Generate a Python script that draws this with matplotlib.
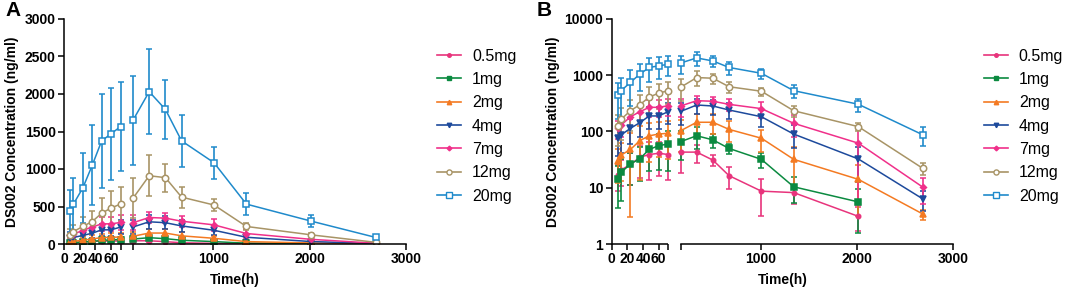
import numpy as np
import matplotlib
matplotlib.use("Agg")
import matplotlib.pyplot as plt
import matplotlib.ticker as mticker
from matplotlib.lines import Line2D

plt.rcParams["font.family"] = ["Liberation Sans", "DejaVu Sans"]

# sampling times (h)
times = np.array([8, 12, 24, 36, 48, 60, 72, 168, 336, 504, 672, 1008, 1344, 2016, 2688], float)

doses = ["0.5mg", "1mg", "2mg", "4mg", "7mg", "12mg", "20mg"]

mean_05 = [16.9, 20.7, 26, 34.8, 39, 41, 39, 43, 43, 31, 16.4, 8.7, 8.2, 3.1, np.nan]
sd_05 = [8, 10, 15, 20, 25, 25, 25, 25, 15, 7, 7, 5.5, 3, 1.4, np.nan]
mean_1 = [14.3, 18.8, 26.4, 33, 48, 56, 60, 66, 84, 71, 50, 32, 10.4, 5.6, np.nan]
sd_1 = [10, 13, 15, 20, 28, 35, 40, 35, 35, 21, 10, 10, 5, 4, np.nan]
mean_2 = [30, 38, 48, 69, 84, 90, 93, 103, 146, 146, 109, 76, 32, 14.1, 3.4]
sd_2 = [18, 25, 45, 55, 55, 55, 60, 60, 60, 55, 45, 32, 22, 11, 0.7]
mean_4 = [76, 87, 114, 144, 189, 189, 225, 227, 296, 284, 241, 183, 90, 32.5, 6.3]
sd_4 = [40, 45, 55, 65, 80, 80, 90, 95, 90, 85, 75, 65, 40, 20, 2.5]
mean_7 = [115, 130, 183, 225, 269, 269, 287, 284, 353, 345, 304, 255, 140, 62, 10.2]
sd_7 = [40, 50, 60, 70, 90, 90, 95, 100, 70, 65, 75, 80, 60, 57, 5]
mean_12 = [125, 165, 234, 300, 410, 480, 532, 610, 910, 885, 625, 520, 234, 122, 22]
sd_12 = [70, 95, 130, 145, 210, 230, 225, 265, 275, 185, 140, 85, 50, 20, 5]
mean_20 = [446, 532, 748, 1050, 1375, 1470, 1565, 1650, 2031, 1795, 1375, 1084, 532, 305, 87]
sd_20 = [280, 350, 467, 534, 627, 614, 592, 590, 570, 390, 350, 215, 143, 80, 31]

means = [mean_05, mean_1, mean_2, mean_4, mean_7, mean_12, mean_20]
sds = [sd_05, sd_1, sd_2, sd_4, sd_7, sd_12, sd_20]

colors = ["#E8347C", "#0B8A40", "#F47A22", "#1D4A9C", "#F0308A", "#A89466", "#1F8ACB"]
markers = ["o", "s", "^", "v", "D", "o", "s"]
msizes = [3.2, 4.2, 4.0, 4.0, 3.0, 4.6, 5.0]
filled = [True, True, True, True, True, False, False]

# broken time axis: 0-72 h stretched, gap, then 168-3000 h
K1 = 56.5 / 72
GAP = 12.5
K2 = 273 / 2832


def fwd(x):
    x = np.asarray(x, float)
    return np.where(x <= 72, x * K1,
                    np.where(x < 168, 72 * K1 + (x - 72) / 96 * GAP,
                             72 * K1 + GAP + (x - 168) * K2))


def inv(u):
    u = np.asarray(u, float)
    u1 = 72 * K1
    u2 = u1 + GAP
    return np.where(u <= u1, u / K1,
                    np.where(u < u2, 72 + (u - u1) / GAP * 96,
                             168 + (u - u2) / K2))


fig = plt.figure(figsize=(10.65, 2.89), dpi=100)
W, H = 1065, 289
axA = fig.add_axes([64 / W, 45 / H, 342 / W, 225 / H])
axB = fig.add_axes([611.7 / W, 45 / H, 341.3 / W, 225 / H])

early = times <= 72
late = times >= 168

for ax, logy in [(axA, False), (axB, True)]:
    ax.set_xscale("function", functions=(fwd, inv))
    if logy:
        ax.set_yscale("log")
    for m, s, c, mk, ms, fl in zip(means, sds, colors, markers, msizes, filled):
        m = np.array(m, float)
        s = np.array(s, float)
        for sel in (early, late):
            ax.errorbar(times[sel], m[sel], yerr=s[sel], color=c, lw=1.1,
                        marker=mk, ms=ms, mfc=c if fl else "white", mec=c, mew=1.1,
                        elinewidth=1.2, capsize=2.2, capthick=1.1)
    ax.set_xlim(0, 3000)
    ax.set_xticks([0, 20, 40, 60, 1000, 2000, 3000])
    ax.set_xticks([72, 168], minor=True)
    ax.xaxis.set_minor_formatter(mticker.NullFormatter())
    for sp in ["top", "right"]:
        ax.spines[sp].set_visible(False)
    for sp in ["left", "bottom"]:
        ax.spines[sp].set_linewidth(1.1)
    ax.tick_params(which="both", direction="out", length=4, width=1.1,
                   labelsize=10, pad=2)
    ax.set_xlabel("Time(h)", fontsize=10, fontweight="bold", labelpad=5)
    ax.set_ylabel("DS002 Concentration (ng/ml)", fontsize=10, fontweight="bold")

axA.set_ylim(0, 3000)
axA.set_yticks(range(0, 3001, 500))
axA.yaxis.set_label_coords(-0.132, 0.5)

axB.set_ylim(1, 10000)
axB.yaxis.set_major_locator(mticker.FixedLocator([1, 10, 100, 1000, 10000]))
axB.yaxis.set_minor_locator(mticker.NullLocator())
axB.yaxis.set_major_formatter(mticker.FuncFormatter(lambda v, p: f"{v:g}"))
axB.yaxis.set_label_coords(-0.152, 0.5)

for ax in (axA, axB):
    for lab in ax.get_xticklabels() + ax.get_yticklabels():
        lab.set_fontweight("bold")

# gap in the time axis of panel B
axB.spines["bottom"].set_bounds(168, 3000)
axB.plot([0, 72], [0, 0], transform=axB.get_xaxis_transform(), color="black",
         lw=1.1, clip_on=False, solid_capstyle="butt")

handles = [Line2D([], [], color=c, marker=mk, ms=ms * 0.8, mfc=c if fl else "white",
                  mec=c, mew=1.0, lw=1.2)
           for c, mk, ms, fl in zip(colors, markers, msizes, filled)]
for ax in (axA, axB):
    ax.legend(handles, doses, loc="upper left", bbox_to_anchor=(1.09, 0.868),
              frameon=False, fontsize=11.5, handlelength=1.5, handletextpad=0.7,
              labelspacing=0.52, borderpad=0, borderaxespad=0)

fig.text(5 / W, 1 - 1 / H, "A", fontsize=15, fontweight="bold", va="top")
fig.text(537 / W, 1 - 1 / H, "B", fontsize=15, fontweight="bold", va="top")

fig.savefig("out.png", dpi=100)
